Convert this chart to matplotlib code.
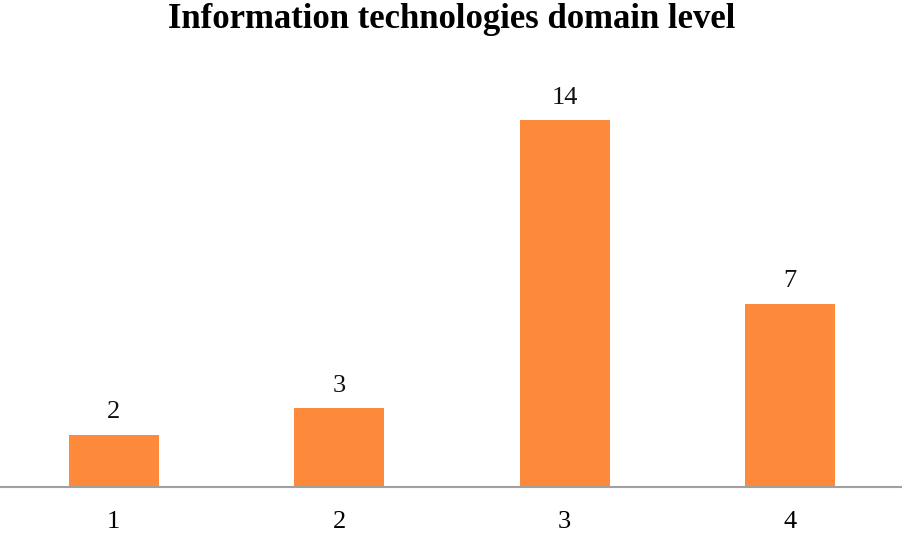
import matplotlib
matplotlib.use("Agg")
import matplotlib.pyplot as plt

categories = ["1", "2", "3", "4"]
values = [2, 3, 14, 7]
title = "Information technologies domain level"

plt.rcParams['font.family'] = ['Liberation Serif', 'DejaVu Serif']

fig = plt.figure(figsize=(9.03, 5.33), dpi=100)
ax = fig.add_axes([1/903, 46/533, 902/903, 419/533])
x = list(range(len(categories)))
bars = ax.bar(x, values, width=0.4, color="#FD8A3A")
ax.set_xlim(-0.5, len(categories) - 0.5)
ax.set_ylim(0, 16)
for xi, v in zip(x, values):
    ax.text(xi, v + 0.45, str(v), ha="center", va="bottom", fontsize=19, color="#111111")
ax.set_xticks(x)
ax.set_xticklabels(categories, fontsize=19)
ax.tick_params(axis="x", length=0, pad=17)
ax.set_yticks([])
for s in ["top", "right", "left"]:
    ax.spines[s].set_visible(False)
ax.spines["bottom"].set_color("#A0A0A0")
ax.spines["bottom"].set_linewidth(1.5)
fig.text(0.5, 1 - 19/533, title, ha="center", va="center", fontsize=25, fontweight="bold")
fig.savefig("out.png", dpi=100)
